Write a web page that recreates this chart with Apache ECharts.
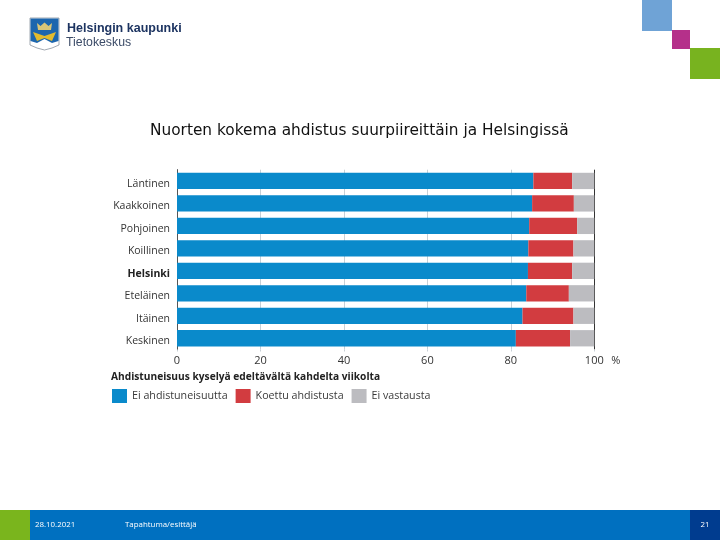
<!DOCTYPE html>
<html><head><meta charset="utf-8">
<style>html,body{margin:0;padding:0;background:#fff}#c{width:720px;height:540px}</style>
<script src="https://cdn.jsdelivr.net/npm/echarts@6/dist/echarts.min.js"></script>
</head><body><div id="c"></div>
<script>
const categories = ['Läntinen','Kaakkoinen','Pohjoinen','Koillinen','Helsinki','Eteläinen','Itäinen','Keskinen'];
const eiAhdistuneisuutta = [85.4,85.1,84.4,84.2,84.1,83.7,82.8,81.2];
const koettuAhdistusta = [9.3,10.0,11.5,10.8,10.6,10.2,12.2,13.0];
const eiVastausta = [5.3,4.9,4.1,5.0,5.3,6.1,5.0,5.8];
const xTicks = [0,20,40,60,80,100];
const seriesNames = ['Ei ahdistuneisuutta','Koettu ahdistusta','Ei vastausta'];
const titleText = 'Nuorten kokema ahdistus suurpiireittäin ja Helsingissä';
const axisHeading = 'Ahdistuneisuus kyselyä edeltävältä kahdelta viikolta';

const font = '"Open Sans", sans-serif';
const mk = (name, data, color) => ({
  name, data, type:'bar', stack:'a', barWidth:16.3, itemStyle:{color}, silent:true
});
const R = (x,y,w,h,fill,z) => ({type:'rect',shape:{x,y,width:w,height:h},style:{fill},z:z||1,silent:true});
const P = (points,fill,z,stroke) => ({type:'polygon',shape:{points},style:{fill,stroke:stroke||null,lineWidth:0.7},z:z||4,silent:true});
const T = (x,y,text,fontSize,fill,fontWeight,fontFamily) => ({type:'text',x,y,silent:true,z:5,
  style:{text,fontSize,fill,fontWeight:fontWeight||'normal',fontFamily:fontFamily||font,verticalAlign:'middle',align:'left'}});

const chart = echarts.init(document.getElementById('c'),null,{renderer:'canvas'});
chart.setOption({
  animation:false,
  backgroundColor:'#fff',
  grid:{left:177,top:169.7,width:417.3,height:179.8},
  legend:{left:112,top:389,padding:0,itemWidth:15,itemHeight:14,itemGap:8,icon:'rect',selectedMode:false,
    textStyle:{fontFamily:font,fontSize:10.7,color:'#3a3a3a',padding:[4,0,0,0]},
    data:seriesNames},
  xAxis:{type:'value',min:0,max:100,interval:xTicks[1]-xTicks[0],
    name:'%',nameLocation:'end',nameGap:17,
    nameTextStyle:{fontFamily:font,fontSize:11,color:'#333',verticalAlign:'top',padding:[6,0,0,0]},
    axisLine:{show:false},
    axisTick:{show:true,length:2,lineStyle:{color:'#c8d0d6'}},
    axisLabel:{fontFamily:font,fontSize:11,color:'#333',margin:6,showMaxLabel:true,showMinLabel:true},
    splitLine:{show:true,lineStyle:{color:['#333','#c8d0d6','#c8d0d6','#c8d0d6','#c8d0d6','#333'],width:1}}},
  yAxis:{type:'category',inverse:true,data:categories,
    axisLine:{show:true,lineStyle:{color:'#555',width:1}},axisTick:{show:false},
    axisLabel:{fontFamily:font,fontSize:10.5,color:'#333',margin:7,padding:[6,0,0,0],
      formatter:v=>v==='Helsinki'?'{b|'+v+'}':v,rich:{b:{fontFamily:font,fontSize:10.5,fontWeight:'bold',color:'#222'}}}},
  series:[mk(seriesNames[0],eiAhdistuneisuutta,'#0a8acb'),mk(seriesNames[1],koettuAhdistusta,'#d23c40'),mk(seriesNames[2],eiVastausta,'#bcbcc0')],
  graphic:{elements:[
    R(642,0,30,31,'#6fa3d6'),R(672,30,18,19,'#b5308a'),R(690,48,30,31,'#78b31f'),
    R(0,510,30,30,'#7ab51d'),R(30,510,660,30,'#0070c0'),R(690,510,30,30,'#003c8f'),
    T(35,525,'28.10.2021',7.9,'#fff'),T(125,525,'Tapahtuma/esittäjä',7.9,'#fff'),T(700.5,525,'21',7.9,'#fff'),
    T(150,131.5,titleText,15.35,'#111','normal','"DejaVu Sans"'),
    T(111,377,axisHeading,10.2,'#222','bold'),
    P([[30,18],[59,18],[59,45],[52,48],[44.5,50],[37,48],[30,45]],'#fff',3,'#7a8490'),
    P([[30.5,18.5],[58.5,18.5],[58.5,41],[52,43],[44.5,39],[37,43],[30.5,41]],'#1c66ae',4),
    P([[37,23],[40.5,26],[44.5,22.5],[48.5,26],[52,23],[51,30],[38,30]],'#d9c678',5),
    P([[33,32],[44.5,36],[56,32],[52,41],[44.5,38],[37,41]],'#e2bb2e',5),
    T(67,28.5,'Helsingin kaupunki',12.5,'#1d3461','bold','"Liberation Sans"'),
    T(66,43,'Tietokeskus',12.3,'#3c4c68','normal','"Liberation Sans"')
  ]}
});
</script></body></html>
